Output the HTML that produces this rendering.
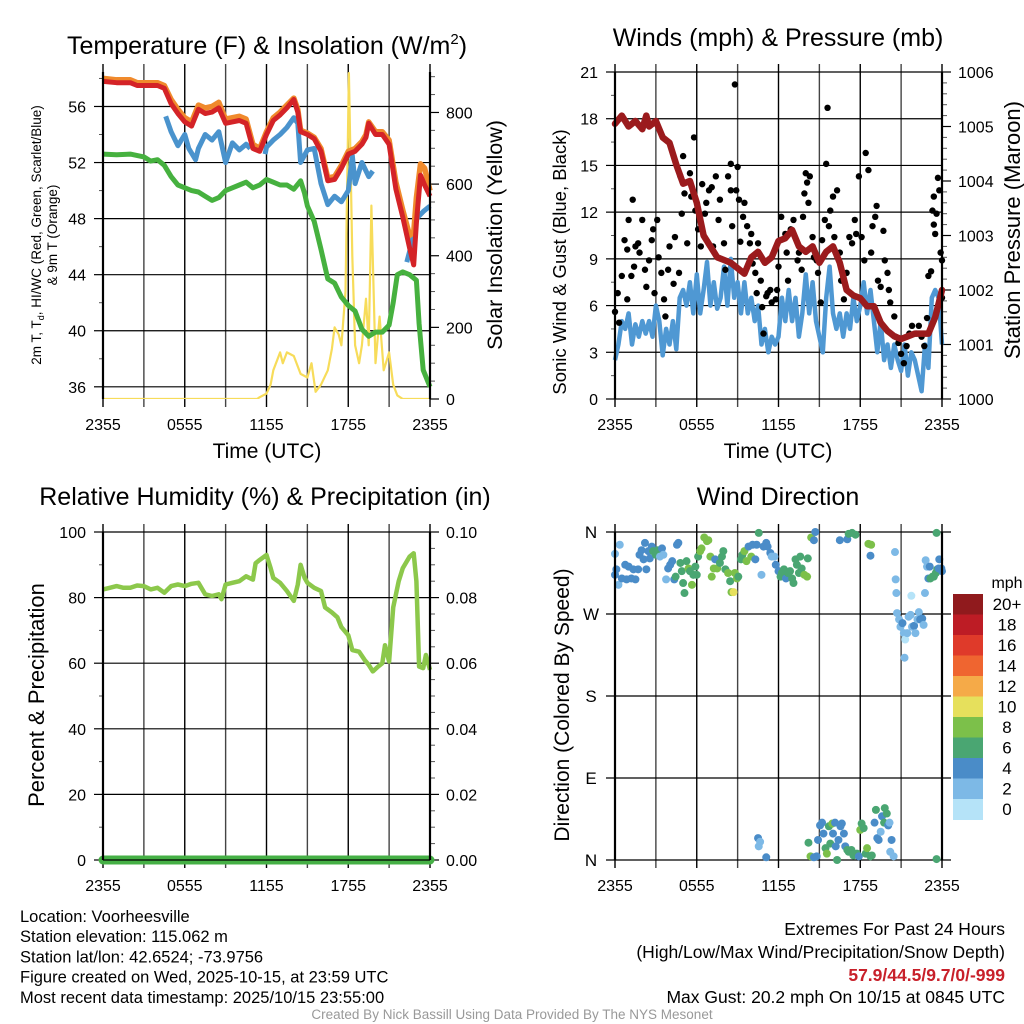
<!DOCTYPE html>
<html><head><meta charset="utf-8"><style>
body{margin:0;background:#fff;}
svg{display:block;font-family:"Liberation Sans",Arial,sans-serif;}
</style></head><body>
<svg id="s" width="1024" height="1024" viewBox="0 0 1024 1024" xmlns="http://www.w3.org/2000/svg"></svg>
<script>
// ---------- DATA ----------
const xTickLabels = ["2355","0555","1155","1755","2355"];
const tempH  = [0,1,2,2.5,3,4,4.5,5,5.5,6,6.5,7,7.5,8,8.5,9,9.5,10,10.5,11,11.5,12,12.5,13,13.5,14,14.3,14.5,15,15.5,16,16.5,17,17.5,18,18.5,19,19.3,19.5,20,20.5,21,21.5,22,22.5,22.8,23,23.3,23.6,24];
const tempT  = [57.8,57.7,57.7,57.5,57.5,57.5,57.3,56.2,55.5,54.9,54.6,55.8,55.5,55.6,55.9,54.8,54.9,55.0,54.8,53.0,52.8,54.0,55.0,55.4,55.9,56.5,55.6,54.2,54.0,53.7,52.8,50.7,50.8,51.6,52.6,52.8,53.3,53.8,54.8,54.0,54.0,53.3,50.1,48.1,45.9,44.7,47.7,51.1,50.4,49.6];
const temp9m = [58.0,57.9,57.9,57.7,57.7,57.7,57.5,56.5,55.8,55.2,54.9,56.1,55.9,56.0,56.3,55.1,55.2,55.3,55.1,53.3,53.0,54.2,55.2,55.6,56.1,56.6,55.8,54.3,54.1,53.8,53.0,50.9,51.0,51.8,52.8,53.0,53.5,54.0,54.9,54.2,54.2,53.6,50.6,48.6,46.8,47.0,49.5,51.9,51.6,50.0];
const hiH = [4.6,5,5.5,6,6.3,6.8,7,7.5,8,8.5,9,9.5,10,10.5,10.8,null,11.9,12,12.5,13,13.5,14,14.3,14.5,15,15.5,16,16.5,17,17.5,18,18.3,18.5,19,19.5,19.8,null,22.3,22.6,23,23.5,24];
const hiV = [55.3,54.2,53.2,54.0,53.0,52.2,53.0,54.0,53.6,54.2,52.0,53.4,52.9,53.3,53.0,null,52.6,53.1,53.6,54.0,54.5,55.2,54.8,52.0,52.9,53.0,50.5,49.0,49.6,49.2,50.0,52.5,50.5,52.0,51.0,51.4,null,44.9,46.0,48.0,48.5,48.9];
const tdH = [0,1,2,3,3.5,4,4.5,5,5.5,6,6.5,7,7.5,8,8.5,9,9.5,10,10.5,11,11.5,12,12.5,13,13.5,14,14.5,14.8,15,15.5,16,16.5,17,17.5,18,18.5,19,19.5,20,20.5,21,21.3,21.6,22,22.5,23,23.2,23.5,24];
const tdV = [52.6,52.55,52.6,52.4,52.1,52.2,51.8,51.0,50.4,50.2,50.0,49.9,49.6,49.3,49.5,50.0,50.2,50.4,50.6,50.2,50.4,50.8,50.6,50.4,50.4,50.1,50.7,49.8,48.9,47.8,45.8,43.7,43.4,42.4,41.8,41.4,40.1,39.6,39.9,39.9,40.4,42.0,44.0,44.2,44.0,43.6,40.5,37.2,36.0];
const solH = [0,11.3,11.5,12,12.3,12.5,13,13.2,13.5,14,14.5,15,15.3,15.6,16,16.5,16.8,17,17.3,17.5,17.8,18.05,18.3,18.5,18.8,19,19.3,19.5,19.7,20,20.3,20.6,21,21.3,21.6,22,24];
const solV = [0,0,5,15,40,80,130,100,130,120,70,60,100,20,40,80,140,200,180,150,300,910,400,150,100,150,280,150,540,100,230,80,130,40,10,0,0];
const presV = [1005.05,1005.2,1005.0,1005.1,1004.95,1005.2,1005.0,1005.1,1004.8,1004.7,1004.3,1003.95,1004.0,1003.6,1003.0,1002.8,1002.6,1002.55,1002.5,1002.4,1002.3,1002.6,1002.7,1002.5,1002.6,1002.9,1002.95,1003.1,1002.8,1002.7,1002.8,1002.5,1002.7,1002.8,1002.5,1002.0,1001.9,1001.85,1001.7,1001.7,1001.4,1001.25,1001.15,1001.1,1001.15,1001.2,1001.2,1001.2,1001.5,1002.0];
const presH = [0,0.5,1,1.5,2,2.3,2.5,3,3.5,4,4.5,5,5.5,6,6.5,7,7.5,8,8.5,9,9.5,10,10.5,11,11.5,12,12.5,13,13.5,14,14.5,15,15.5,16,16.5,17,17.5,18,18.5,19,19.5,20,20.5,21,21.5,22,22.5,23,23.5,24];
const windStepH = 0.25;
const windV = [2.5,3.5,5.0,4.5,5.5,3.5,4.8,4.0,5.0,4.2,5.0,4.0,6.0,5.0,2.8,4.5,3.5,5.0,3.2,6.5,7.0,6.0,7.5,5.5,8.0,5.5,7.0,8.8,6.0,7.5,5.8,6.5,8.5,6.0,9.0,6.5,7.5,5.5,7.5,5.5,6.5,5.0,6.0,3.5,4.5,3.0,4.0,3.5,4.0,6.5,5.0,7.0,5.0,6.5,4.0,5.5,8.0,5.5,7.5,5.0,4.0,3.0,6.5,8.5,5.5,4.5,5.5,4.0,5.5,4.5,6.5,5.0,6.0,7.5,5.5,7.0,5.0,3.0,5.0,2.5,3.5,2.0,3.5,2.5,1.8,3.5,1.5,3.0,2.5,1.5,0.5,3.5,2.0,6.5,7.0,6.5,3.5];
const gustH = [0,0.2,0.3,0.5,0.7,0.9,0.9,1.0,1.2,1.3,1.4,1.5,1.7,1.8,2.0,2.2,2.3,2.5,2.7,2.8,2.9,3.1,3.2,3.4,3.6,3.7,3.9,4.0,4.3,4.4,4.7,4.8,4.9,5.0,5.1,5.3,5.5,5.6,5.8,5.9,6.1,6.3,6.4,6.6,6.7,6.9,7.1,7.2,7.4,7.6,7.7,8.0,8.1,8.3,8.5,8.5,8.6,8.8,8.9,9.0,9.1,9.2,9.4,9.5,9.7,9.9,10.0,10.1,10.3,10.4,10.5,10.7,10.8,10.9,11.1,11.2,11.4,11.5,11.8,11.9,12.0,12.2,12.5,12.6,12.7,12.9,13.1,13.4,13.5,13.7,13.8,13.9,14.0,14.1,14.2,14.3,14.5,14.6,14.8,14.9,15.1,15.2,15.4,15.5,15.6,15.7,15.8,16.0,16.1,16.3,16.5,16.6,16.8,17.0,17.2,17.4,17.6,17.7,17.9,18.1,18.3,18.4,18.6,18.8,18.9,19.1,19.2,19.3,19.5,19.7,19.8,20.0,20.1,20.2,20.5,20.6,20.8,21.0,21.2,21.4,21.6,21.8,22.1,22.3,22.5,22.7,22.9,23.0,23.2,23.3,23.4,23.4,23.5,23.6,23.7,23.8,23.9,24.0,24.0];
const gustV = [5.6,6.8,4.9,7.9,10.2,6.4,9.6,11.5,7.9,12.8,8.5,9.8,10.0,9.4,11.5,8.3,7.2,8.9,10.2,10.9,6.8,11.5,9.1,8.1,6.4,5.3,8.3,9.8,7.4,10.4,8.1,14.3,11.9,15.6,13.2,10.0,14.5,13.0,16.8,12.1,10.9,9.8,13.8,11.9,12.6,13.4,13.6,9.8,14.3,11.5,12.8,10.0,8.3,14.3,13.4,15.1,11.1,20.2,13.4,14.9,12.8,10.1,11.7,12.6,11.1,10.0,10.6,8.7,8.1,6.8,10.0,7.6,5.9,4.2,6.6,6.8,7.0,6.2,6.4,7.0,8.5,11.7,10.6,9.4,7.6,10.9,11.5,8.9,9.4,8.3,11.7,13.2,14.5,13.9,12.6,14.3,10.4,9.1,8.9,8.1,6.2,10.2,11.5,15.1,18.7,11.1,12.1,13.0,10.4,13.4,9.4,7.6,6.4,8.1,10.4,10.0,11.5,10.6,14.3,10.4,8.9,15.8,14.7,9.4,11.1,11.7,12.4,7.6,7.2,10.8,8.9,8.1,7.0,6.2,5.3,4.0,3.6,2.9,2.3,3.4,4.2,4.7,4.2,4.7,4.0,3.4,5.2,7.9,8.2,12.1,13.0,11.2,10.6,11.9,14.2,13.4,9.4,8.9,6.5];
const rhH = [0,0.5,1,1.5,2,2.5,3,3.5,4,4.5,5,5.5,6,6.5,7,7.5,8,8.5,8.7,9,9.5,10,10.5,11,11.2,11.5,12,12.3,12.5,13,13.5,14,14.3,14.5,14.8,15,15.5,16,16.3,16.8,17.2,17.5,18,18.3,18.8,19.2,19.5,19.8,20.2,20.5,20.7,21,21.3,21.7,22,22.5,22.8,23,23.2,23.5,23.7,24];
const rhV = [82.5,83,83.5,83,83,83.7,83.5,82.5,83,81.5,83.5,84,83.5,84.2,84.5,81,80.5,81,79.5,84,84.5,85,86.5,85.5,90.5,91.5,93,89,86,84.5,82,79,84,90,86,84.5,83,82,77,75.5,74,71,68.5,64,63.5,61,59.5,57.5,59,60,65.5,60.5,77,85,89,92.5,93.5,85,59,58.5,62.5,58];
const precipH = [0,24];
const precipV = [0,0];
const dirH = [0,0,0.1,0.25,0.35,0.5,0.75,0.85,1.0,1.2,1.35,1.5,1.7,1.8,1.95,2.1,2.2,2.3,2.45,2.55,2.7,2.8,3.0,3.15,3.3,3.45,3.55,3.75,3.9,4.05,4.2,4.35,4.45,4.55,4.65,4.8,4.9,5.0,5.1,5.25,5.4,5.5,5.65,5.75,5.9,6.0,6.1,6.25,6.35,6.55,6.75,6.85,7.0,7.1,7.25,7.35,7.5,7.7,7.85,7.95,8.1,8.3,8.45,8.55,8.7,8.8,8.95,9.05,9.25,9.35,9.5,9.65,9.8,10.0,10.1,10.3,10.4,10.55,10.75,10.9,11.1,11.2,11.4,11.5,11.7,11.8,12.0,12.15,12.25,12.4,12.55,12.7,12.85,13.0,13.1,13.25,13.35,13.5,13.6,13.7,13.9,14.1,14.15,14.4,14.6,14.7,16.5,17.05,17.15,17.4,17.65,18.6,18.8,18.75,
20.55,20.6,20.65,20.7,20.85,20.95,21.1,21.2,21.3,21.25,21.45,21.55,21.75,21.7,21.8,21.95,22.05,22.2,22.3,22.4,22.55,22.65,22.75,22.8,22.9,23.0,23.1,23.15,23.3,23.4,23.55,23.65,23.75,23.8,23.95,24.0,23.6,
10.5,10.65,10.55,11.1,14.2,14.35,14.6,14.8,14.9,15.05,15.2,15.3,15.45,15.55,15.7,15.8,15.95,16.0,16.15,16.2,16.3,16.4,16.55,16.65,16.8,16.9,17.05,17.15,17.35,17.5,17.75,17.9,18.0,18.1,18.25,18.4,18.5,18.75,18.85,19.05,19.15,19.25,19.35,19.5,19.6,19.75,19.8,19.95,20.05,20.15,20.3,20.2,20.45,23.6];
const dirDeg = [336,313,319,302,346,309,324,308,322,309,319,308,319,335,340,330,348,319,339,331,344,339,335,340,333,342,335,308,320,324,328,308,311,346,348,326,317,304,293,328,320,317,302,313,322,313,333,339,342,354,350,351,333,311,320,330,320,326,333,339,319,315,306,294,294,315,309,311,330,335,339,328,344,333,346,330,346,359,313,344,348,344,337,333,333,324,317,311,315,319,309,315,317,309,304,330,324,315,333,320,313,311,331,354,351,360,351,352,358,359,357,347,346,334,
338,308,293,271,264,256,260,249,242,222,249,267,290,269,256,257,249,264,272,264,265,258,293,329,322,309,322,309,311,311,315,319,320,330,320,317,359,
24,20,15,3,19,4,3,4,22,38,41,29,13,7,37,18,40,29,41,15,0,22,37,40,29,15,11,9,11,5,7,4,33,40,35,7,13,4,5,41,55,24,22,31,48,41,57,51,38,41,22,9,4,1];
const dirSpd = [3,4,4,2,2,4,4,4,4,4,4,4,4,4,4,4,4,4,4,4,4,6,6,6,2,4,2,2,4,4,4,4,6,4,4,6,6,6,6,6,8,6,8,6,6,6,6,8,8,8,8,8,8,8,8,4,8,6,6,6,6,8,6,8,10,8,8,6,6,6,8,8,4,8,4,4,4,6,2,4,4,4,4,2,2,4,4,6,6,6,4,6,6,6,6,6,6,6,6,6,8,8,6,8,4,4,4,4,6,6,6,8,8,4,
2,2,2,2,2,2,4,2,0,2,2,2,0,2,2,4,2,2,2,4,4,2,2,2,2,4,4,6,6,6,6,6,4,4,4,4,6,
4,2,2,4,6,8,4,4,4,4,4,4,6,8,6,6,8,4,4,4,6,4,4,4,4,4,6,6,6,6,6,4,8,6,6,6,8,6,6,4,6,4,4,2,4,6,6,6,4,2,4,2,2,6];
const cbLabels = ["0","2","4","6","8","10","12","14","16","18","20+"];
const cbColors = ["#b5e3f8","#7db9e6","#4a8cc8","#4aa672","#7cc04a","#e6e05c","#f5aa48","#ef6530","#df3a2a","#bd1c25","#901a1d"];

// ---------- DRAWING ----------
const NS="http://www.w3.org/2000/svg";
const svg=document.getElementById('s');
const TICK=16, TITLE=25, XTITLE=21;
function el(tag,attrs,parent){const e=document.createElementNS(NS,tag);for(const k in attrs)e.setAttribute(k,attrs[k]);(parent||svg).appendChild(e);return e;}
function txt(x,y,s,size,anchor,parent,extra){const t=el('text',Object.assign({x:x,y:y,'font-size':size,'text-anchor':anchor||'middle',fill:'#000'},extra||{}),parent);t.textContent=s;return t;}

function makeScale(d0,d1,r0,r1){return v=>r0+(v-d0)/(d1-d0)*(r1-r0);}

function panel(name,x0,y0,x1,y1){
  const g=el('g',{});
  
  
  const sx=makeScale(0,24,x0,x1);
  for(let h=0;h<=24;h+=3){
    const x=sx(h);
    const l=el('line',{x1:x,y1:y0-8,x2:x,y2:y1+8,stroke:(h%6===0?'#000':'#444'),'stroke-width':1.4},g);
    
    
  }
  for(let i=0;i<xTickLabels.length;i++){
    const t=txt(sx(i*6),y1+31,xTickLabels[i],TICK,'middle',g);
    
    
  }
  return {g,sx};
}
function yAxis(g,x0,x1,y0,y1,d0,d1,ticks,minor,labelFn,side,noGridDraw){
  const sy=makeScale(d0,d1,y1,y0);
  ticks.forEach(v=>{
    const y=sy(v);
    if(!noGridDraw){
      const l=el('line',{x1:x0,y1:y,x2:x1,y2:y,stroke:'#000','stroke-width':1.2},g);
      
      
    }
    if(side==='L'){el('line',{x1:x0-9,y1:y,x2:x0,y2:y,stroke:'#000','stroke-width':1.2},g);
      const t=txt(x0-17,y+6,labelFn(v),TICK,'end',g);}
    else{el('line',{x1:x1,y1:y,x2:x1+9,y2:y,stroke:'#000','stroke-width':1.2},g);
      const t=txt(x1+16,y+6,labelFn(v),TICK,'start',g);}
  });
  minor.forEach(v=>{const y=sy(v);
    if(side==='L')el('line',{x1:x0-4,y1:y,x2:x0,y2:y,stroke:'#555','stroke-width':1},g);
    else el('line',{x1:x1,y1:y,x2:x1+5,y2:y,stroke:'#555','stroke-width':1},g);});
  return sy;
}
function linePath(xs,ys,sx,sy){let d='',pen=false;for(let i=0;i<xs.length;i++){if(xs[i]===null||ys[i]===null){pen=false;continue;}d+=(pen?'L':'M')+sx(xs[i]).toFixed(1)+','+sy(ys[i]).toFixed(1);pen=true;}return d;}
function frame(g,x0,y0,x1,y1){el('line',{x1:x0,y1:y0,x2:x0,y2:y1,stroke:'#000','stroke-width':2.2},g);el('line',{x1:x1,y1:y0,x2:x1,y2:y1,stroke:'#000','stroke-width':2.2},g);}
function range(a,b,s){const r=[];for(let v=a;v<=b+1e-9;v+=s)r.push(+v.toFixed(4));return r;}

// ---- Panel 1: Temperature ----
(function(){
  const X0=103,X1=430,Y0=72,Y1=399;
  const {g,sx}=panel('temperature-panel',X0,Y0,X1,Y1);
  const syL=yAxis(g,X0,X1,Y0,Y1,35.13,58.46,[36,40,44,48,52,56],[38,42,46,50,54,58],v=>String(v),'L');
  const syR=yAxis(g,X0,X1,Y0,Y1,0,913,[0,200,400,600,800],range(50,900,50).filter(v=>v%200),v=>String(v),'R',true);
  const clip=el('clipPath',{id:'c1'},g);el('rect',{x:X0,y:Y0-6,width:X1-X0+3,height:Y1-Y0+6},clip);
  const d=el('g',{'clip-path':'url(#c1)'},g);
  let p=el('path',{d:linePath(solH,solV,sx,syR),fill:'none',stroke:'#f7dc5a','stroke-width':2.2,'stroke-linejoin':'round'},d);
  p=el('path',{d:linePath(tdH,tdV,sx,syL),fill:'none',stroke:'#46b13f','stroke-width':5,'stroke-linejoin':'round'},d);
  p=el('path',{d:linePath(hiH,hiV,sx,syL),fill:'none',stroke:'#4a93cd','stroke-width':5,'stroke-linejoin':'round'},d);
  p=el('path',{d:linePath(tempH,temp9m,sx,syL),fill:'none',stroke:'#f08a2c','stroke-width':5.5,'stroke-linejoin':'round'},d);
  p=el('path',{d:linePath(tempH,tempT,sx,syL),fill:'none',stroke:'#d42327','stroke-width':5,'stroke-linejoin':'round'},d);
  frame(g,X0,Y0,X1,Y1);
  let t=txt(267,54,'',TITLE,'middle',g);t.innerHTML='Temperature (F) &amp; Insolation (W/m<tspan dy="-10" font-size="15">2</tspan><tspan dy="10">)</tspan>';
  t=txt(267,458,'Time (UTC)',XTITLE,'middle',g);
  t=txt(0,0,'',13.5,'middle',g,{transform:'translate(41,235) rotate(-90)'});t.innerHTML='2m T, T<tspan dy="3" font-size="9">d</tspan><tspan dy="-3">, HI/WC (Red, Green, Scarlet/Blue)</tspan>';
  t=txt(0,0,'& 9m T (Orange)',13.5,'middle',g,{transform:'translate(57,235) rotate(-90)'});
  t=txt(0,0,'Solar Insolation (Yellow)',21.5,'middle',g,{transform:'translate(502,235) rotate(-90)'});
})();

// ---- Panel 2: Winds ----
(function(){
  const X0=615,X1=942,Y0=72,Y1=399;
  const {g,sx}=panel('winds-panel',X0,Y0,X1,Y1);
  const syL=yAxis(g,X0,X1,Y0,Y1,0,21,[0,3,6,9,12,15,18,21],range(1.5,19.5,3),v=>String(v),'L');
  const syR=yAxis(g,X0,X1,Y0,Y1,1000,1006,[1000,1001,1002,1003,1004,1005,1006],range(1000.2,1005.8,0.2).filter(v=>Math.abs(v-Math.round(v))>0.05),v=>String(v),'R',true);
  const clip=el('clipPath',{id:'c2'},g);el('rect',{x:X0-4,y:Y0,width:X1-X0+8,height:Y1-Y0},clip);
  const d=el('g',{'clip-path':'url(#c2)'},g);
  const wH=windV.map((v,i)=>i*windStepH);
  let p=el('path',{d:linePath(wH,windV,sx,syL),fill:'none',stroke:'#4f98d3','stroke-width':4.5,'stroke-linejoin':'round'},d);
  for(let i=0;i<gustH.length;i++){
    const c=el('circle',{cx:sx(gustH[i]),cy:syL(gustV[i]),r:3.2,fill:'#000'},d);
    
    
  }
  p=el('path',{d:linePath(presH,presV,sx,syR),fill:'none',stroke:'#9b1b1d','stroke-width':6.5,'stroke-linejoin':'round','stroke-linecap':'round'},d);
  frame(g,X0,Y0,X1,Y1);
  let t=txt(778,46,'Winds (mph) & Pressure (mb)',TITLE,'middle',g);
  t=txt(778,458,'Time (UTC)',XTITLE,'middle',g);
  t=txt(0,0,'Sonic Wind & Gust (Blue, Black)',18.5,'middle',g,{transform:'translate(566,262) rotate(-90)'});
  t=txt(0,0,'Station Pressure (Maroon)',22,'middle',g,{transform:'translate(1020,230) rotate(-90)'});
})();

// ---- Panel 3: RH ----
(function(){
  const X0=103,X1=430,Y0=532,Y1=860;
  const {g,sx}=panel('humidity-panel',X0,Y0,X1,Y1);
  const syL=yAxis(g,X0,X1,Y0,Y1,0,100,[0,20,40,60,80,100],[10,30,50,70,90],v=>String(v),'L');
  const syR=yAxis(g,X0,X1,Y0,Y1,0,0.1,[0,0.02,0.04,0.06,0.08,0.1],range(0.005,0.095,0.005).filter(v=>Math.abs(v*50-Math.round(v*50))>0.01),v=>v.toFixed(2),'R',true);
  let p=el('path',{d:linePath(rhH,rhV,sx,syL),fill:'none',stroke:'#8cc84b','stroke-width':4.5,'stroke-linejoin':'round'},g);
  p=el('path',{d:linePath(precipH,precipV,sx,syR),fill:'none',stroke:'#45b045','stroke-width':9,'stroke-linecap':'round'},g);
  frame(g,X0,Y0,X1,Y1);
  el('line',{x1:X0,y1:Y1,x2:X1,y2:Y1,stroke:'#000','stroke-width':1.2},g);
  let t=txt(265,505,'Relative Humidity (%) & Precipitation (in)',TITLE,'middle',g);
  t=txt(0,0,'Percent & Precipitation',22,'middle',g,{transform:'translate(44,695) rotate(-90)'});
})();

// ---- Panel 4: Wind Direction ----
(function(){
  const X0=615,X1=942,Y0=532,Y1=860;
  const {g,sx}=panel('wind-direction-panel',X0,Y0,X1,Y1);
  const dirLabels=['N','E','S','W','N'];
  const sy=makeScale(0,360,Y1,Y0);
  [0,90,180,270,360].forEach((v,i)=>{const y=sy(v);
    el('line',{x1:X0-9,y1:y,x2:X1+9,y2:y,stroke:'#000','stroke-width':1.2},g);
    const t=txt(X0-24,y+6,dirLabels[i],17,'middle',g);});
  function col(s){let k=Math.floor(s/2);if(k>10)k=10;return cbColors[k];}
  for(let i=0;i<dirH.length;i++){
    const c=el('circle',{cx:sx(dirH[i]),cy:sy(dirDeg[i]),r:4,fill:col(dirSpd[i]+0.5)},g);
    
    
  }
  frame(g,X0,Y0,X1,Y1);
  let t=txt(778,505,'Wind Direction',TITLE,'middle',g);
  t=txt(0,0,'Direction (Colored By Speed)',21,'middle',g,{transform:'translate(569,705) rotate(-90)'});
  const cb=el('g',{},g);
  
  
  const cbTop=594,cbH=20.5;
  for(let i=0;i<cbColors.length;i++){
    const k=cbColors.length-1-i;
    const r=el('rect',{x:953,y:cbTop+i*cbH,width:30,height:cbH+0.5,fill:cbColors[k]},cb);
    
    
    const t2=txt(1007,cbTop+i*cbH+16,cbLabels[k],17,'middle',cb);
    
    
  }
  t=txt(1007,588,'mph',16,'middle',cb);
})();

// ---- Footer text ----
(function(){
  const info=['Location: Voorheesville','Station elevation: 115.062 m','Station lat/lon: 42.6524; -73.9756','Figure created on Wed, 2025-10-15, at 23:59 UTC','Most recent data timestamp: 2025/10/15 23:55:00'];
  info.forEach((s,i)=>{const t=txt(20,922+i*20.2,s,16.5,'start');});
  let t=txt(1005,935,'Extremes For Past 24 Hours',17.5,'end');
  t=txt(1005,958,'(High/Low/Max Wind/Precipitation/Snow Depth)',17.5,'end');
  t=txt(1005,981,'57.9/44.5/9.7/0/-999',17.5,'end',null,{fill:'#c8202a','font-weight':'bold'});
  t=txt(1005,1003,'Max Gust: 20.2 mph On 10/15 at 0845 UTC',17.5,'end');
  t=txt(512,1019,'Created By Nick Bassill Using Data Provided By The NYS Mesonet',13.5,'middle',null,{fill:'#999'});
})();
</script>
</body></html>
